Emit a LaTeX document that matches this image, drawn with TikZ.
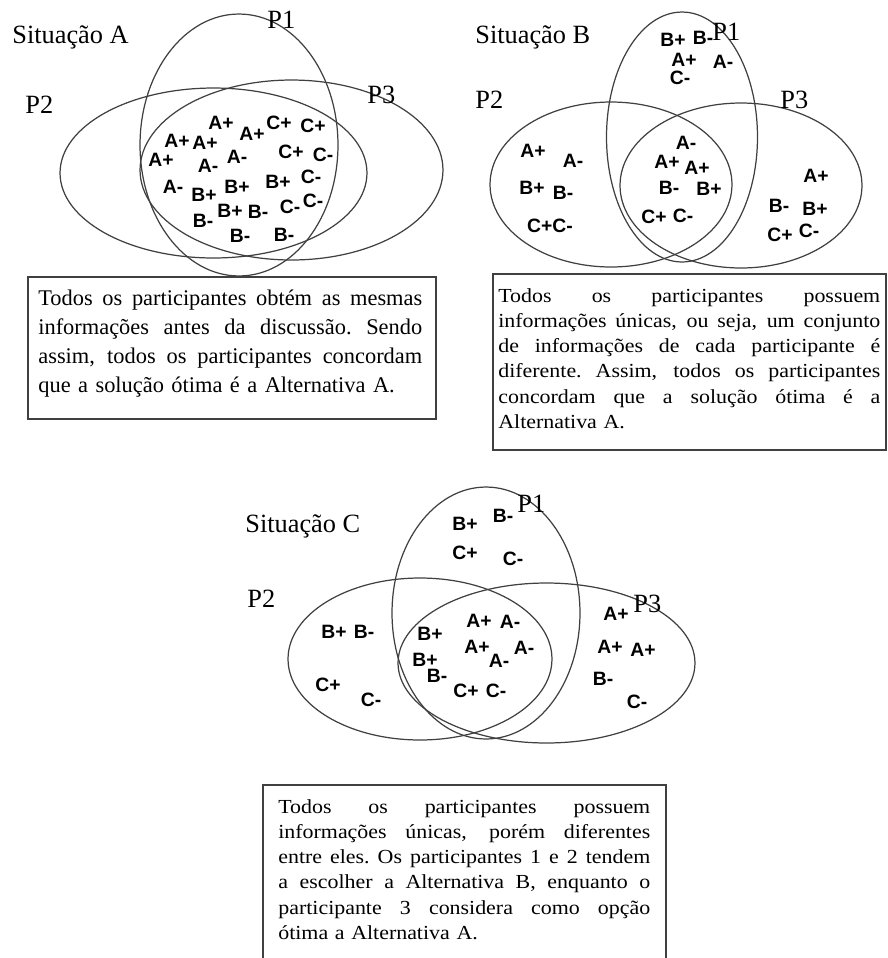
\documentclass[tikz,border=0pt]{standalone}
\usepackage{fontspec}
\setmainfont{Liberation Serif}
\newfontfamily\letterfont{Liberation Sans}
\newfontfamily\widefont[FakeStretch=1.1]{Liberation Serif}
\newlength\notewidth
% one justified line of a text box
\newcommand{\fullline}[1]{\leavevmode\hbox to\notewidth{\spaceskip=0.25em plus 1fil\xspaceskip=\spaceskip\relax #1}\\}

\begin{document}
\begin{tikzpicture}[x=0.02cm, y=-0.02cm,
  venn/.style={draw=black!75, line width=0.7pt},
  frame/.style={draw=black!75, line width=0.65pt},
  title/.style={anchor=base west, inner sep=0pt, font=\fontsize{15}{18}\selectfont},
  info/.style={inner sep=0pt, font=\letterfont\bfseries\fontsize{11}{12}\selectfont},
  note/.style={anchor=north west, inner sep=0pt, align=left, text width=\notewidth}]

\useasboundingbox (0,0) rectangle (888,958);

% --- Situacao A: same information for everyone ---
\begin{scope}
\draw[venn] (239,145) ellipse [x radius=1.98cm, y radius=2.62cm];
\draw[venn] (213.5,173) ellipse [x radius=3.07cm, y radius=1.70cm];
\draw[venn] (291.5,170) ellipse [x radius=3.03cm, y radius=1.80cm];

\node[title] (sitA) at (12,43) {Situação A};
\node[title] (pA1) at (267,28) {P1};
\node[title] (pA2) at (25,113) {P2};
\node[title] (pA3) at (367,103) {P3};

\foreach \t/\x/\y [count=\i] in {A+/221/123, A+/177/141, A+/205/143, A+/252/134,
    C+/279/123, C+/313/126, A+/161/160, A-/208/166, A-/237/157, C+/291/152,
    C-/323/155, A-/173/187, B+/204/195, B+/237/187, B+/278/182, C-/311/177,
    C-/290/207, C-/313/201, B-/203/221, B+/230/211, B-/258/212, B-/240/236,
    B-/284/235}
  \node[info] (a\i) at (\x,\y) {\t};

\draw[frame] (28,277) rectangle (436,419);
\setlength\notewidth{7.68cm}
\node[note, font=\fontsize{12.75}{16.45}\selectfont] (txtA) at (38,290) {\noindent
  \fullline{Todos os participantes obtém as mesmas}
  \fullline{informações antes da discussão. Sendo}
  \fullline{assim, todos os participantes concordam}
  que a solução ótima é a Alternativa A.};
\end{scope}

% --- Situacao B: unique information, same choice ---
\begin{scope}
\draw[venn] (682,137) ellipse [x radius=1.51cm, y radius=2.50cm];
\draw[venn] (611,184.5) ellipse [x radius=2.42cm, y radius=1.65cm];
\draw[venn] (741,185.5) ellipse [x radius=2.42cm, y radius=1.65cm];

\node[title] (sitB) at (475,43) {Situação B};
\node[title] (pB1) at (712,40) {P1};
\node[title] (pB2) at (475,108) {P2};
\node[title] (pB3) at (780,108) {P3};

\foreach \t/\x/\y [count=\i] in {B+/673/40, B-/703/38, A+/684/60, A-/723/62, C-/680/78,
    A+/533/151, A-/573/161, B+/532/188, B-/563/193, C+C-/550/226,
    A-/686/143, A+/667/162, A+/697/168, B-/669/188, B+/709/189, C+/654/217, C-/683/216,
    A+/816/176, B-/779/206, B+/815/209, C+/780/235, C-/809/231}
  \node[info] (b\i) at (\x,\y) {\t};

\draw[frame] (493,274) rectangle (886,450);
\setlength\notewidth{7.64cm}
\node[note, font=\widefont\fontsize{11.34}{14.35}\selectfont] (txtB) at (498,288) {\noindent
  \fullline{Todos os participantes possuem}
  \fullline{informações únicas, ou seja, um conjunto}
  \fullline{de informações de cada participante é}
  \fullline{diferente. Assim, todos os participantes}
  \fullline{concordam que a solução ótima é a}
  Alternativa A.};
\end{scope}

% --- Situacao C: unique information, different choices ---
\begin{scope}
\draw[venn] (486,613) ellipse [x radius=1.88cm, y radius=2.52cm];
\draw[venn] (420,659) ellipse [x radius=2.64cm, y radius=1.62cm];
\draw[venn] (546.5,663) ellipse [x radius=2.97cm, y radius=1.60cm];

\node[title] (sitC) at (245,532) {Situação C};
\node[title] (pC1) at (517,512) {P1};
\node[title] (pC2) at (247,607) {P2};
\node[title] (pC3) at (633,612) {P3};

\foreach \t/\x/\y [count=\i] in {B+/465/524, B-/503/516, C+/465/553, C-/513/559,
    B+/334/632, B-/364/632, C+/328/685, C-/371/700,
    B+/430/634, B+/425/660, B-/437/676, A+/479/621, A-/510/622, A+/477/647,
    A-/499/661, A-/524/648, C+/466/691, C-/496/691,
    A+/616/614, A+/610/647, A+/643/650, B-/603/679, C-/637/702}
  \node[info] (c\i) at (\x,\y) {\t};

\draw[frame] (263,958) |- (666,785) -- (666,958);
\setlength\notewidth{7.44cm}
\node[note, font=\widefont\fontsize{11.34}{14.35}\selectfont] (txtC) at (278,799) {\noindent
  \fullline{Todos os participantes possuem}
  \fullline{informações únicas, porém diferentes}
  \fullline{entre eles. Os participantes 1 e 2 tendem}
  \fullline{a escolher a Alternativa B, enquanto o}
  \fullline{participante 3 considera como opção}
  ótima a Alternativa A.};
\end{scope}

\end{tikzpicture}
\end{document}
